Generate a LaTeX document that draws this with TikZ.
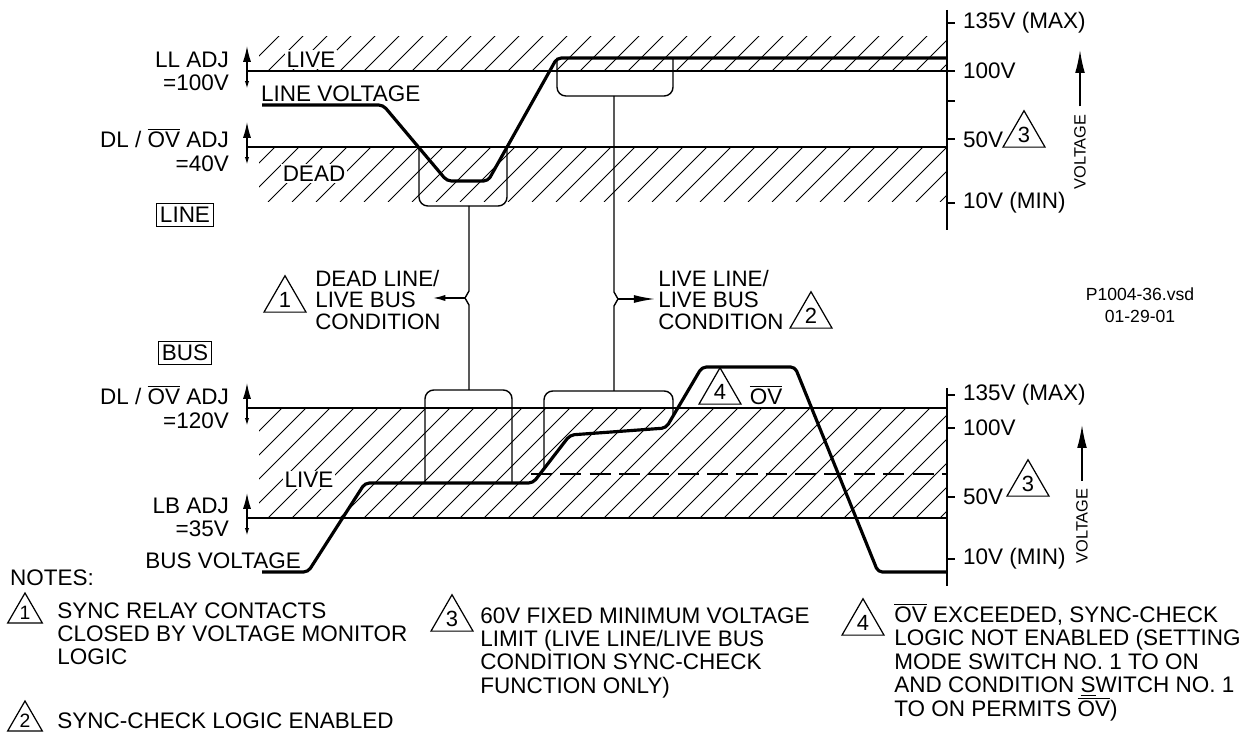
\documentclass[tikz,border=0pt]{standalone}
\usepackage{fontspec}
\setmainfont{Liberation Sans}
\usepackage{tikz}
\usetikzlibrary{arrows.meta,shapes.geometric}
\newcommand{\OV}{$\overline{\mbox{OV}}$}
\newcommand{\adjmark}[1]{%
  \draw[-{Latex[length=9pt,width=4.6pt]}, line width=0.8pt] (247,#1) -- (247,#1-25);
  \draw[-{Latex[length=4.5pt,width=2.4pt]}, line width=0.8pt] (247,#1) -- (247,#1+18);}
\newcommand{\hatchband}[2]{%
  \begin{scope}
    \clip (259,#1) rectangle (947,#2);
    \foreach \hx in {100,124,...,960} \draw[hatch] (\hx,#2) -- ++(160,-160);
  \end{scope}}

\begin{document}
\begin{tikzpicture}[
  x=0.2mm,
  y=-0.2mm,
  lbl/.style={font=\fontsize{12.8}{13.2}\selectfont, inner sep=1pt},
  notetext/.style={font=\fontsize{12.8}{13.3}\selectfont, align=left, inner sep=0pt},
  cond/.style={font=\fontsize{12.7}{12.2}\selectfont, align=left, inner sep=0pt},
  boxed/.style={lbl, draw, line width=0.7pt, inner sep=2pt},
  warn/.style={draw, line width=0.7pt, regular polygon, regular polygon sides=3,
    minimum size=0.97cm, inner sep=0pt, font=\fontsize{12.5}{13}\selectfont},
  smallwarn/.style={warn, minimum size=0.8cm, font=\fontsize{11}{12}\selectfont},
  level/.style={line width=0.8pt},
  dashlevel/.style={line width=0.8pt, dash pattern=on 12pt off 4.7pt},
  hatch/.style={line width=0.5pt},
  trace/.style={line width=1.8pt, rounded corners=2.5pt},
  window/.style={line width=0.8pt, rounded corners=5pt},
  smallarrow/.style={-{Latex[length=7pt,width=3.5pt]}, line width=0.8pt},
  bigarrow/.style={-{Latex[length=12pt,width=4.5pt]}, line width=0.8pt},
  volarrow/.style={-{Latex[length=13pt,width=5.5pt]}, line width=0.8pt}
]
\useasboundingbox (0,0) rectangle (1253,742);

\hatchband{37}{71}
\hatchband{147}{202}
\node[lbl, fill=white] (livetop) at (311,60) {LIVE};
\node[lbl, fill=white] (deadtop) at (314,174) {DEAD};
\draw[level] (247,71) -- (947,71);
\draw[level] (247,147) -- (947,147);
\draw[trace] (262,105) -- (383,105) -- (447,181) -- (488,181) -- (557,58) -- (947,58);
\draw[window] (419,147) -- (419,206) -- (507,206) -- (507,147);
\draw[window] (557,58) -- (557,96) -- (673,96) -- (673,58);
\node[lbl, anchor=west] (linev) at (259,94) {LINE VOLTAGE};
\node[lbl, align=right, anchor=east] (lladj) at (231,71) {LL ADJ\\=100V};
\node[lbl, align=right, anchor=east] (dladj) at (231,150) {DL / \OV{} ADJ\\=40V};
\adjmark{71}
\adjmark{147}
\node[boxed] (linebox) at (185,215) {LINE};

\draw[level] (947,10) -- (947,230);
\foreach \ty in {23,71,101,139,203} \draw[level] (947,\ty) -- (955,\ty);
\node[lbl, anchor=west] (maxtop) at (961,23) {135V (MAX)};
\node[lbl, anchor=west] (hundtop) at (961,71) {100V};
\node[lbl, anchor=west] (fiftytop) at (961,140) {50V};
\node[lbl, anchor=west] (mintop) at (961,203) {10V (MIN)};
\node[warn] (tritop) at (1024,135) {3};
\node[lbl, rotate=90, font=\fontsize{9.3}{10}\selectfont] (voltop) at (1080,152) {VOLTAGE};
\draw[volarrow] (voltop.east) ++(0,-6) -- (1080,50);

\coordinate (linewin) at (469,206);
\coordinate (buswin) at (469,390);
\coordinate (deadjog) at (465,298);
\coordinate (deadtip) at (433,298);
\coordinate (livewin) at (614,96);
\coordinate (livebus) at (614,391);
\coordinate (livejog) at (618,299);
\coordinate (livetip) at (655,299);
\draw[level] (linewin) -- (469,291) -- (deadjog) -- (469,305) -- (buswin);
\draw[smallarrow] (deadjog) -- (deadtip);
\draw[level] (livewin) -- (614,292) -- (livejog) -- (614,306) -- (livebus);
\draw[bigarrow] (livejog) -- (livetip);
\node[warn] (tri1) at (285,300) {1};
\node[cond, anchor=west] (deadlive) at (315,300) {DEAD LINE/\\LIVE BUS\\CONDITION};
\node[cond, anchor=west] (livelive) at (658,300) {LIVE LINE/\\LIVE BUS\\CONDITION};
\node[warn] (tri2) at (811,316) {2};
\node[font=\fontsize{10}{12.5}\selectfont, align=center] (fileid) at (1140,305) {P1004-36.vsd\\01-29-01};
\node[boxed] (busbox) at (185,353) {BUS};

\hatchband{408}{518}
\node[lbl, fill=white] (livebot) at (309,480) {LIVE};
\draw[level] (247,408) -- (947,408);
\draw[level] (247,518) -- (947,518);
\draw[dashlevel] (531,474) -- (947,474);
\draw[trace] (262,572) -- (308,572) -- (365,483) -- (533,483) -- (570,435) -- (666,428)
  -- (702,367) -- (795,367) -- (878,572) -- (947,572);
\draw[window] (425,483) -- (425,390) -- (512,390) -- (512,483);
\draw[window] (544,469) -- (544,391) -- (673,391) -- (673,416);
\node[warn] (tri4) at (720,392) {4};
\node[lbl] (ovmark) at (766,395) {\OV};
\node[lbl, align=right, anchor=east] (dlbus) at (231,407) {DL / \OV{} ADJ\\=120V};
\node[lbl, align=right, anchor=east] (lbadj) at (231,517) {LB ADJ\\=35V};
\adjmark{408}
\adjmark{518}
\node[lbl, anchor=east] (busv) at (303,561) {BUS VOLTAGE};

\draw[level] (947,388) -- (947,586);
\foreach \ty in {395,428,497,559} \draw[level] (947,\ty) -- (955,\ty);
\node[lbl, anchor=west] (maxbot) at (961,395) {135V (MAX)};
\node[lbl, anchor=west] (hundbot) at (961,428) {100V};
\node[lbl, anchor=west] (fiftybot) at (961,497) {50V};
\node[lbl, anchor=west] (minbot) at (961,559) {10V (MIN)};
\node[warn] (tribot) at (1028,484) {3};
\node[lbl, rotate=90, font=\fontsize{9.3}{10}\selectfont] (volbot) at (1082,526) {VOLTAGE};
\draw[volarrow] (volbot.east) ++(0,-6) -- (1082,425);

\node[lbl, anchor=west] (notes) at (8,578) {NOTES:};
\node[smallwarn] (note1tri) at (25,613) {1};
\node[notetext, anchor=north west] (note1) at (57,602) {SYNC RELAY CONTACTS\\CLOSED BY VOLTAGE MONITOR\\LOGIC};
\node[smallwarn] (note2tri) at (25,721) {2};
\node[notetext, anchor=base west] (note2) at (57,728) {SYNC-CHECK LOGIC ENABLED};
\node[warn] (note3tri) at (452,619) {3};
\node[notetext, anchor=north west] (note3) at (480,607) {60V FIXED MINIMUM VOLTAGE\\LIMIT (LIVE LINE/LIVE BUS\\CONDITION SYNC-CHECK\\FUNCTION ONLY)};
\node[warn] (note4tri) at (863,623) {4};
\node[notetext, anchor=north west] (note4) at (894,603) {\OV{} EXCEEDED, SYNC-CHECK\\LOGIC NOT ENABLED (SETTING\\MODE SWITCH NO. 1 TO ON\\AND CONDITION \underline{S}WITCH NO. 1\\TO ON PERMITS~\OV)};
\end{tikzpicture}
\end{document}
